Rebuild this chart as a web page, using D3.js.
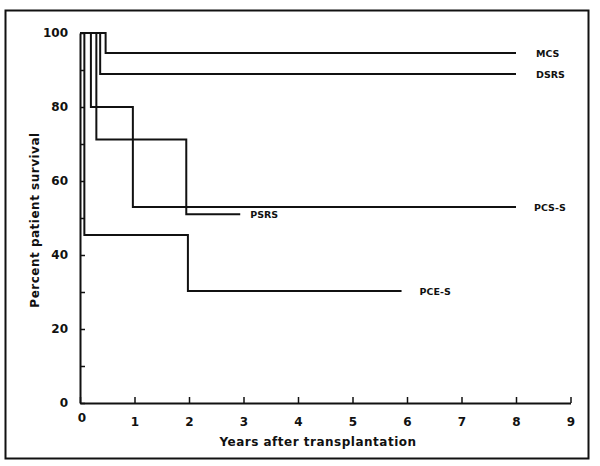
<!DOCTYPE html>
<html>
<head>
<meta charset="utf-8">
<script src="https://cdn.jsdelivr.net/npm/d3@7"></script>
<style>
  body { margin: 0; background: #fff; }
  text { font-family: "DejaVu Sans", sans-serif; fill: #111; }
</style>
</head>
<body>
<div id="grafico"></div>
<script>
// Curvas de supervivencia (pasos): tiempos en años y % de supervivencia
const seriesNames = ["MCS", "DSRS", "PCS-S", "PSRS", "PCE-S"];
const mcsYears   = [0, 0.47, 8];
const mcsSurv    = [100, 94.6, 94.6];
const dsrsYears  = [0, 0.37, 8];
const dsrsSurv   = [100, 88.9, 88.9];
const pcsYears   = [0, 0.2, 0.97, 8];
const pcsSurv    = [100, 80, 53, 53];
const psrsYears  = [0, 0.3, 1.95, 2.94];
const psrsSurv   = [100, 71.2, 51, 51];
const pceYears   = [0, 0.08, 1.98, 5.9];
const pceSurv    = [100, 45.4, 30.3, 30.3];

const xTicks = [0, 1, 2, 3, 4, 5, 6, 7, 8, 9];
const yTicks = [0, 10, 20, 30, 40, 50, 60, 70, 80, 90, 100];
const yLabels = [0, 20, 40, 60, 80, 100];

const width = 600;
const height = 466;

const svg = d3.select("#grafico")
    .append("svg")
    .attr("width", width)
    .attr("height", height);

// marco exterior
svg.append("rect")
    .attr("x", 5.5)
    .attr("y", 10.5)
    .attr("width", 583)
    .attr("height", 448)
    .attr("fill", "none")
    .attr("stroke", "#111")
    .attr("stroke-width", 2);

const x = d3.scaleLinear().domain([0, 9]).range([80, 570.5]);
const y = d3.scaleLinear().domain([0, 100]).range([403, 33]);

// ejes
const xAxis = d3.axisBottom(x).tickValues(xTicks).tickSize(-6).tickSizeOuter(0)
    .tickFormat(d => d === 0 ? "" : d).tickPadding(14);
const gx = svg.append("g").attr("transform", `translate(0, ${y(0)})`).call(xAxis);

const yAxis = d3.axisLeft(y).tickValues(yTicks).tickSize(-5).tickSizeOuter(0)
    .tickFormat(d => yLabels.includes(d) ? d : "").tickPadding(12);
const gy = svg.append("g").attr("transform", `translate(${x(0)}, 0)`).call(yAxis);

[gx, gy].forEach(g => {
    g.select(".domain").attr("stroke", "#111").attr("stroke-width", 2);
    g.selectAll(".tick line").attr("stroke", "#111").attr("stroke-width", 1.5);
    g.selectAll(".tick text")
        .style("font-family", "'DejaVu Sans', sans-serif")
        .style("font-size", "12px")
        .style("font-weight", "bold")
        .attr("fill", "#111");
});

// el "0" del eje x separado, como en la figura
svg.append("text")
    .attr("x", x(0) + 2)
    .attr("y", 422)
    .attr("text-anchor", "middle")
    .style("font-size", "12px")
    .style("font-weight", "bold")
    .text("0");

// curvas
const series = [
    { name: "MCS", years: mcsYears, surv: mcsSurv },
    { name: "DSRS", years: dsrsYears, surv: dsrsSurv },
    { name: "PCS-S", years: pcsYears, surv: pcsSurv },
    { name: "PSRS", years: psrsYears, surv: psrsSurv },
    { name: "PCE-S", years: pceYears, surv: pceSurv }
];

const line = d3.line()
    .x(d => x(d[0]))
    .y(d => y(d[1]))
    .curve(d3.curveStepAfter);

svg.selectAll("path.curva")
    .data(series)
    .enter()
    .append("path")
    .attr("class", "curva")
    .attr("d", s => line(s.years.map((t, i) => [t, s.surv[i]])))
    .attr("fill", "none")
    .attr("stroke", "#111")
    .attr("stroke-width", 2);

// etiquetas de las curvas
const labelOffset = { "MCS": [20, 0], "DSRS": [20, 0], "PCS-S": [18, 0], "PSRS": [10, 0], "PCE-S": [18, 0] };
svg.selectAll("text.etiqueta")
    .data(series)
    .enter()
    .append("text")
    .attr("class", "etiqueta")
    .attr("x", s => x(s.years[s.years.length - 1]) + labelOffset[s.name][0])
    .attr("y", s => y(s.surv[s.surv.length - 1]) + 4 + labelOffset[s.name][1])
    .style("font-size", "9.5px")
    .style("font-weight", "bold")
    .text(s => s.name);

// títulos de los ejes
svg.append("text")
    .attr("x", 318)
    .attr("y", 446)
    .attr("text-anchor", "middle")
    .style("font-size", "12px")
    .style("font-weight", "bold")
    .style("letter-spacing", "0.5px")
    .text("Years after transplantation");

svg.append("text")
    .attr("transform", "translate(39, 220) rotate(-90)")
    .attr("text-anchor", "middle")
    .style("font-size", "12px")
    .style("font-weight", "bold")
    .style("letter-spacing", "0.5px")
    .text("Percent patient survival");
</script>
</body>
</html>
